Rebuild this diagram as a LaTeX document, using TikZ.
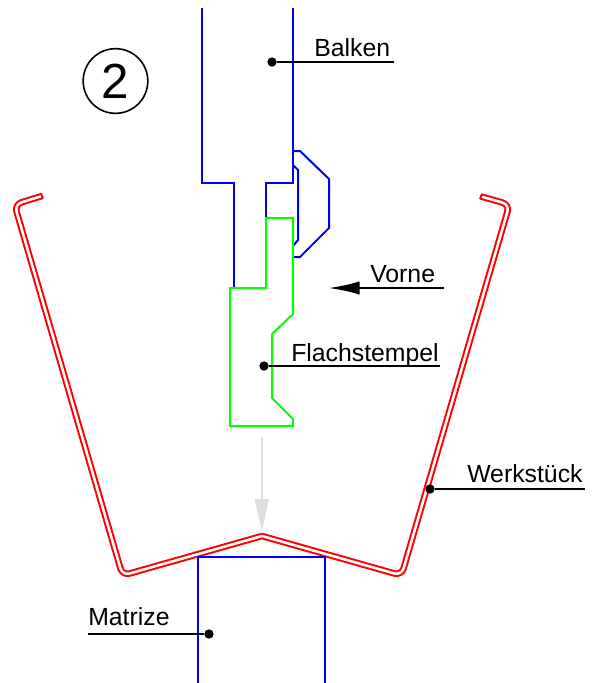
\documentclass[tikz,border=0pt]{standalone}
\usepackage{fontspec}
\setmainfont{Liberation Sans}
\usetikzlibrary{arrows.meta}
\tikzset{
  x=0.75pt,y=-0.75pt,
  blueline/.style={draw=blue,line width=1.5pt,line join=miter},
  greenline/.style={draw=green,line width=1.5pt},
  sheet/.style={draw=red,line width=1.5pt,double=white,double distance=1.9pt,line join=round},
  sheetcap/.style={draw=red,line width=1.5pt},
  leader/.style={draw=black,line width=1.3pt},
  dotmark/.style={circle,fill=black,inner sep=0pt,minimum size=7pt},
  lbl/.style={font=\fontsize{18.6}{20}\selectfont,text=black,inner sep=0pt,anchor=base west},
}
\begin{document}
\begin{tikzpicture}
\useasboundingbox (0,0) rectangle (600,683);
\fill[white] (0,0) rectangle (600,683);
% sheet
\draw[sheet] (42,196) [rounded corners=5.5pt] -- (14.5,204.5) -- (122.5,575.5) [sharp corners] -- (262,536) [rounded corners=5.5pt] -- (401.5,575.5) -- (509.5,204.5) -- (481,196.5);
\coordinate (tl1) at (41,193.5); \coordinate (tl2) at (43,198.5);
\coordinate (tr1) at (482,194); \coordinate (tr2) at (480,199);
\draw[sheetcap] (tl1) -- (tl2);
\draw[sheetcap] (tr1) -- (tr2);
% Matrize
\draw[blueline] (198,683) -- (198,557) -- (325,557) -- (325,683);
% Balken
\draw[blueline] (202,8) -- (202,183) -- (234,183) -- (234,288);
\draw[blueline] (293,8) -- (293,183) -- (266,183) -- (266,218);
% clamp
\draw[blueline] (293,151) -- (300,151) -- (329,179) -- (329,228) -- (300,257) -- (293,257);
\draw[blueline] (293,165) -- (298,170) -- (298,240) -- (293,246);
% Flachstempel
\draw[greenline] (230,288) -- (266,288) -- (266,218) -- (293,218) -- (293,314) -- (272,334) -- (272,398) -- (293,419) -- (293,426) -- (230,426) -- cycle;
% grey arrow
\coordinate (ga1) at (262,437); \coordinate (ga2) at (262,531);
\draw[draw=black!13,line width=2pt] (ga1) -- (262,500);
\fill[black!13] (ga2) -- (254.5,499) -- (269,499) -- cycle;
% circle 2
\node[circle,draw=black,line width=1.2pt,minimum size=48.5pt,inner sep=0pt,font=\fontsize{37}{40}\selectfont] (two) at (115.5,81) {2};
% Labels
\node[dotmark] (d1) at (272,62) {};
\coordinate (e1) at (394,62);
\draw[leader] (d1) -- (e1);
\node[lbl] (balken) at (314,56) {Balken};
\coordinate (v1) at (444,288);
\coordinate (v2) at (329,288);
\draw[leader,-{Latex[length=23pt,width=10pt]}] (v1) -- (v2);
\node[lbl] (vorne) at (370,282) {Vorne};
\node[dotmark] (d2) at (264,366) {};
\coordinate (e2) at (440,366);
\draw[leader] (d2) -- (e2);
\node[lbl] (fl) at (291,361) {Flachstempel};
\node[dotmark] (d3) at (430,489) {};
\coordinate (e3) at (585,489);
\draw[leader] (d3) -- (e3);
\node[lbl] (ws) at (467,482) {Werkstück};
\node[dotmark] (d4) at (209,634) {};
\coordinate (e4) at (88,634);
\draw[leader] (d4) -- (e4);
\node[lbl] (ma) at (88,625) {Matrize};
\end{tikzpicture}
\end{document}
